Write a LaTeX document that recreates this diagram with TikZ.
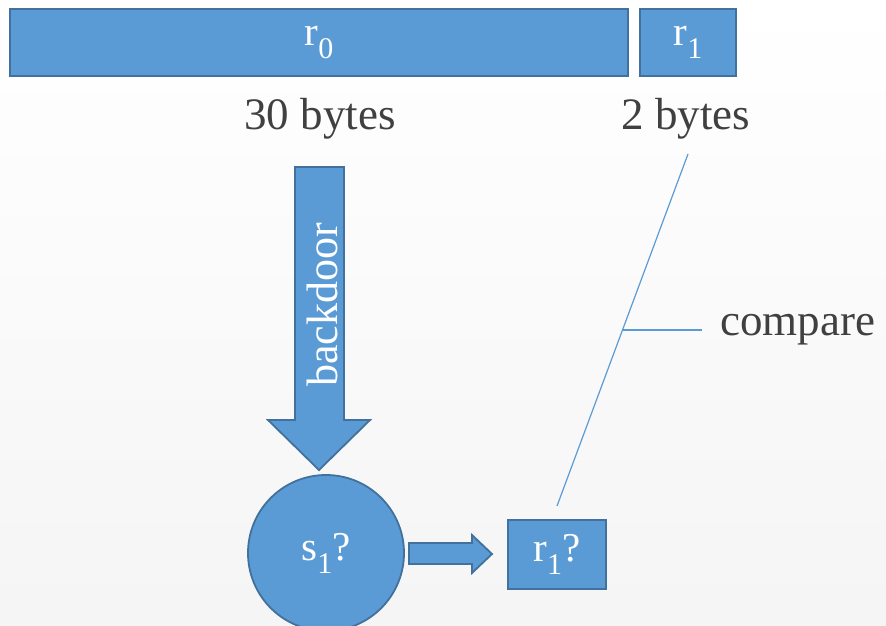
\documentclass[tikz,border=0pt]{standalone}
\usepackage{fontspec}
\setmainfont{Liberation Serif}
\usetikzlibrary{calc}
\definecolor{boxfill}{HTML}{5B9BD5}
\definecolor{boxedge}{HTML}{41719C}
\definecolor{labeltext}{HTML}{404040}
\newcommand{\lowsub}[1]{\raisebox{-0.32em}{\fontsize{30}{34}\selectfont #1}}
\tikzset{
  blockbox/.style={draw=boxedge, fill=boxfill, line width=1.8pt, inner sep=0pt,
    text=white, font=\fontsize{41}{46}\selectfont},
  sizelabel/.style={text=labeltext, font=\fontsize{45}{50}\selectfont, inner sep=0pt},
  blockarrow/.style={draw=boxedge, fill=boxfill, line width=1.8pt, line join=miter},
  calloutline/.style={draw=boxfill, line width=1.2pt}
}
\begin{document}
\begin{tikzpicture}[x=1pt,y=-1pt]
  % page with a soft top-to-bottom shading
  \shade[top color=white, bottom color=black!4] (0,0) rectangle (886,626);
  \useasboundingbox (0,0) rectangle (886,626);

  % register blocks
  \node[blockbox, minimum width=618pt, minimum height=67pt] (r0) at (319,42.5) {r\lowsub{0}};
  \node[blockbox, minimum width=96pt, minimum height=67pt] (r1) at (688,42.5) {r\lowsub{1}};

  % sizes
  \node[sizelabel] (b30) at (320,119) {30 bytes};
  \node[sizelabel] (b2) at (686,119) {2 bytes};

  % backdoor arrow
  \draw[blockarrow] (295,167) -- (344,167) -- (344,420) -- (370,420) -- (319,470)
    -- (268,420) -- (295,420) -- cycle;
  \node[text=white, font=\fontsize{44}{48}\selectfont, rotate=90, inner sep=0pt] (bd) at (322,305) {backdoor};

  % guessed seed and derived value
  \node[blockbox, circle, minimum size=156pt] (s1) at (326,553) {s\lowsub{1}?};
  \draw[blockarrow] (409,543) -- (472,543) -- (472,535) -- (492,554) -- (472,573)
    -- (472,564) -- (409,564) -- cycle;
  \node[blockbox, minimum width=98pt, minimum height=69pt] (r1q) at (557,554.5) {r\lowsub{1}?};

  % comparison callout
  \coordinate (ctop) at (688,154);
  \coordinate (cbot) at (557,506);
  \coordinate (cmid) at ($(ctop)!0.50!(cbot)$);
  \node[sizelabel, anchor=west] (cmp) at (720,330) {compare};
  \draw[calloutline] (ctop) -- (cbot);
  \draw[calloutline] (cmid) -- ++(79,0) coordinate (cend);
\end{tikzpicture}
\end{document}
